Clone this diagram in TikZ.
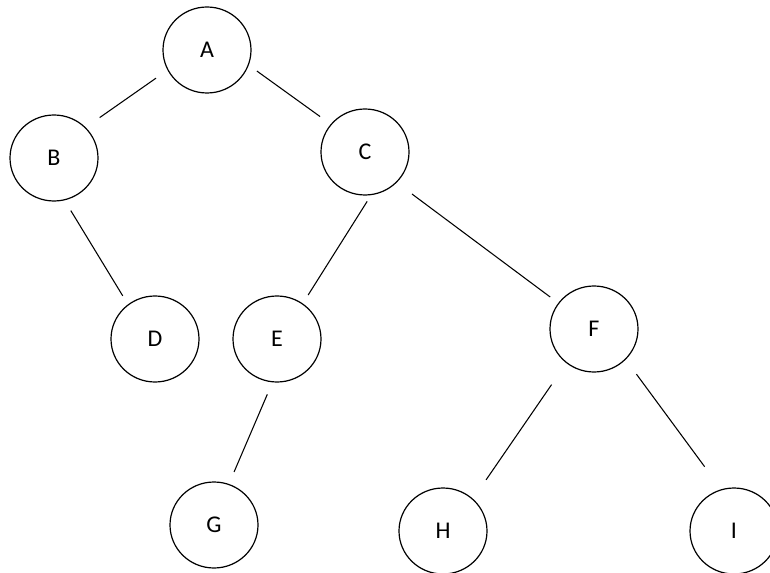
\documentclass[tikz,border=0pt]{standalone}
\usepackage{fontspec}
\setmainfont{Carlito}
\usetikzlibrary{shapes.geometric}
\tikzstyle{vertex}=[ellipse,draw=black,line width=0.9pt,minimum width=66pt,minimum height=64.5pt,inner sep=0pt,font=\fontsize{18}{21}\selectfont]
\tikzstyle{edge}=[draw=black,line width=0.8pt]

\begin{document}
\begin{tikzpicture}[x=0.75pt,y=-0.75pt]
 \useasboundingbox (0,0) rectangle (770,573);
 \node [style=vertex] (A) at (207, 50)  {A};
 \node [style=vertex] (B) at (54, 158)  {B};
 \node [style=vertex] (C) at (365, 152) {C};
 \node [style=vertex] (D) at (155, 339) {D};
 \node [style=vertex] (E) at (277, 339) {E};
 \node [style=vertex] (F) at (594, 329) {F};
 \node [style=vertex] (G) at (214, 525) {G};
 \node [style=vertex] (H) at (443, 531) {H};
 \node [style=vertex] (I) at (734, 531) {I};
 \draw [style=edge,shorten <=10.5pt,shorten >=12.75pt] (A.-153) to (B.44);
 \draw [style=edge,shorten <=7.5pt,shorten >=9.75pt] (A.-20) to (C.141);
 \draw [style=edge,shorten <=9pt,shorten >=7.5pt] (B.-76) to (D.128);
 \draw [style=edge,shorten <=5.5pt,shorten >=7.5pt] (C.-82) to (E.54);
 \draw [style=edge,shorten <=14.25pt,shorten >=7.5pt] (C.-44) to (F.144);
 \draw [style=edge,shorten <=9.75pt,shorten >=9.75pt] (E.-96) to (G.70);
 \draw [style=edge,shorten <=19.5pt,shorten >=17.25pt] (F.-129) to (H.47);
 \draw [style=edge,shorten <=13.5pt,shorten >=21pt] (F.-44) to (I.107);
\end{tikzpicture}
\end{document}
